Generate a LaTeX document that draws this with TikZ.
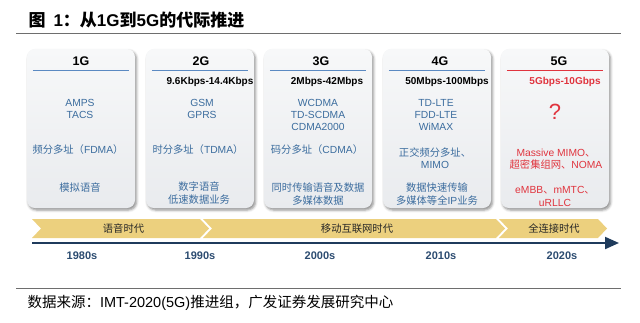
\documentclass[tikz,border=0pt]{standalone}
\usepackage{fontspec}
\setmainfont{Liberation Sans}
\newfontfamily\cjk{Noto Sans CJK SC}
\usepackage{xcolor}
\usepackage{tikz}
\usetikzlibrary{arrows.meta, positioning, calc, shadows.blur}
\definecolor{techblue}{HTML}{3B6C9E}
\definecolor{fivered}{HTML}{E0343E}
\definecolor{ruleblue}{HTML}{5B8AC2}
\definecolor{yearnavy}{HTML}{2B4B70}
\definecolor{axisnavy}{HTML}{1F3B5C}
\definecolor{bandgold}{HTML}{ECD07E}
\definecolor{boxtop}{HTML}{F7F8F9}
\definecolor{boxbot}{HTML}{E9EBEE}
\definecolor{rulegray}{HTML}{6E6E6E}
\newcommand{\zh}[1]{{\cjk #1}}
\tikzset{
  genbox/.style={rounded corners=8pt, minimum width=108pt, minimum height=159pt, inner sep=0pt,
    top color=boxtop, bottom color=boxbot,
    blur shadow={shadow xshift=1.5pt, shadow yshift=-2pt, shadow opacity=45, shadow blur radius=2.5pt}},
  genname/.style={font=\bfseries\fontsize{12.5}{14}\selectfont},
  genrule/.style={line width=1.3pt, ruleblue},
  ratetext/.style={font=\bfseries\fontsize{10}{12}\selectfont},
  techtext/.style={font=\fontsize{10.3}{12.2}\selectfont, text=techblue, align=center},
  fivetext/.style={techtext, text=fivered},
  eratext/.style={font=\fontsize{10.3}{12}\selectfont, text=black!85},
  yeartext/.style={font=\bfseries\fontsize{11}{13}\selectfont, text=yearnavy},
  chevron/.style={fill=bandgold},
  pagerule/.style={line width=1pt, rulegray},
  axisline/.style={line width=2pt, axisnavy, -{Triangle[length=14pt, width=12pt]}}
}

\begin{document}
\begin{tikzpicture}[x=1pt, y=-1pt]
        \useasboundingbox (0,0) rectangle (640,322);
        % Title
        \node[font=\bfseries\fontsize{17}{20}\selectfont, anchor=west] (title) at (25,20)
          {\zh{图}\hspace{8pt}1\zh{：从}1G\zh{到}5G\zh{的代际推进}};
        \draw[pagerule] (16,33) -- (621,33);
        % Generation boxes
        \node[genbox] (g1) at (81,128.5) {};
        \node[genbox] (g2) at (200,128.5) {};
        \node[genbox] (g3) at (318,128.5) {};
        \node[genbox] (g4) at (437,128.5) {};
        \node[genbox] (g5) at (555,128.5) {};
        % Headers
        \node[genname] (n1) at (81,61) {1G};
        \node[genname] (n2) at (201,61) {2G};
        \node[genname] (n3) at (321,61) {3G};
        \node[genname] (n4) at (440,61) {4G};
        \node[genname] (n5) at (559,61) {5G};
        \draw[genrule] ($(g1.north west)+(6,22)$) -- ($(g1.north east)+(-6,22)$);
        \draw[genrule] ($(g2.north west)+(6,22)$) -- ($(g2.north east)+(-6,22)$);
        \draw[genrule] ($(g3.north west)+(6,22)$) -- ($(g3.north east)+(-6,22)$);
        \draw[genrule] ($(g4.north west)+(6,22)$) -- ($(g4.north east)+(-6,22)$);
        \draw[genrule, fivered] ($(g5.north west)+(6,22)$) -- ($(g5.north east)+(-6,22)$);
        % Rates
        \node[ratetext] (r2) at (210,82) {9.6Kbps-14.4Kbps};
        \node[ratetext] (r3) at (327,82) {2Mbps-42Mbps};
        \node[ratetext] (r4) at (447,82) {50Mbps-100Mbps};
        \node[ratetext, text=fivered] (r5) at (565,82) {5Gbps-10Gbps};
        % Standards
        \node[techtext] (t1) at (80,109) {AMPS\\TACS};
        \node[techtext] (t2) at (202,109) {GSM\\GPRS};
        \node[techtext] (t3) at (318,115) {WCDMA\\TD-SCDMA\\CDMA2000};
        \node[techtext] (t4) at (436,115) {TD-LTE\\FDD-LTE\\WiMAX};
        \node[font=\fontsize{22}{24}\selectfont, text=fivered] (t5) at (555,112) {?};
        % Access
        \node[techtext] (a1) at (78,150) {\zh{频分多址（}FDMA\zh{）}};
        \node[techtext] (a2) at (198,150) {\zh{时分多址（}TDMA\zh{）}};
        \node[techtext] (a3) at (317,150) {\zh{码分多址（}CDMA\zh{）}};
        \node[techtext] (a4) at (435,158) {\zh{正交频分多址、}\\MIMO};
        \node[fivetext] (a5) at (556,159.5) {Massive MIMO\zh{、}\\\zh{超密集组网、}NOMA};
        % Services
        \node[techtext] (s1) at (80,188) {\zh{模拟语音}};
        \node[techtext] (s2) at (199,193) {\zh{数字语音}\\\zh{低速数据业务}};
        \node[techtext] (s3) at (318,194) {\zh{同时传输语音及数据}\\\zh{多媒体数据}};
        \node[techtext] (s4) at (437,194) {\zh{数据快速传输}\\\zh{多媒体等全}IP\zh{业务}};
        \node[fivetext] (s5) at (555,196.5) {eMBB\zh{、}mMTC\zh{、}\\uRLLC};
        % Era band
        \fill[chevron] (32,219) -- (200,219) -- (209,228.5) -- (200,238) -- (32,238) -- (41,228.5) -- cycle;
        \fill[chevron] (203,219) -- (496,219) -- (505,228.5) -- (496,238) -- (203,238) -- (212,228.5) -- cycle;
        \fill[chevron] (499,219) -- (598,219) -- (607,228.5) -- (598,238) -- (499,238) -- (508,228.5) -- cycle;
        \node[eratext] (e1) at (123.5,228.5) {\zh{语音时代}};
        \node[eratext] (e2) at (357,228.5) {\zh{移动互联网时代}};
        \node[eratext] (e3) at (554,228.5) {\zh{全连接时代}};
        % Time axis
        \coordinate (axstart) at (32,243);
        \coordinate (axend) at (619,243);
        \draw[axisline] (axstart) -- (axend);
        \node[yeartext] (y1) at (82,256) {1980s};
        \node[yeartext] (y2) at (200,256) {1990s};
        \node[yeartext] (y3) at (320,256) {2000s};
        \node[yeartext] (y4) at (441,256) {2010s};
        \node[yeartext] (y5) at (562,256) {2020s};
        % Source
        \draw[pagerule] (16,288) -- (621,288);
        \node[font=\fontsize{14.5}{17}\selectfont, anchor=west] (source) at (24,303)
          {\zh{数据来源：}IMT-2020(5G)\zh{推进组，广发证券发展研究中心}};
      \end{tikzpicture}
\end{document}
